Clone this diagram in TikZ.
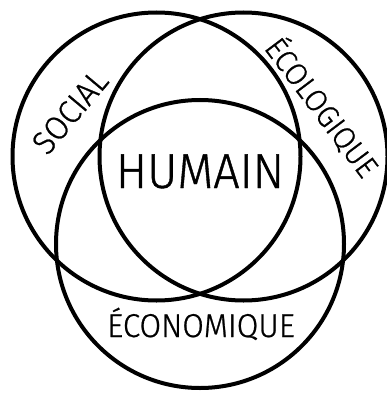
\documentclass[tikz,border=0pt]{standalone}
\usepackage{fontspec}
\setmainfont{Fira Sans}[UprightFont=* Light,FakeStretch=0.95,FakeBold=0.8]
\begin{document}
\begin{tikzpicture}[x=1pt,y=-1pt,
    ring/.style={draw,circle,line width=4pt,minimum size=288pt,inner sep=0pt},
    word/.style={anchor=base,inner sep=0pt,font=\fontsize{33}{33}\selectfont},
    bigword/.style={word,font=\fontsize{49}{49}\selectfont}]
    \useasboundingbox (0,0) rectangle (387,393);

    \node[ring] (cSocial) at (156.5,156.5) {};
    \node[ring] (cEcolo) at (243.5,156.5) {};
    \node[ring] (cEcono) at (200,244) {};

    \node[bigword] (tHumain) at (200,188) {HUMAIN};
    \node[word] (tEcono) at (201,337) {ÉCONOMIQUE};
    \node[word,rotate=50] (tSocial) at (78.7,119.3) {SOCIAL};
    \node[word,rotate=-53,font=\fontsize{31}{31}\selectfont] (tEcolo) at (313,114) {ÉCOLOGIQUE};
\end{tikzpicture}
\end{document}
